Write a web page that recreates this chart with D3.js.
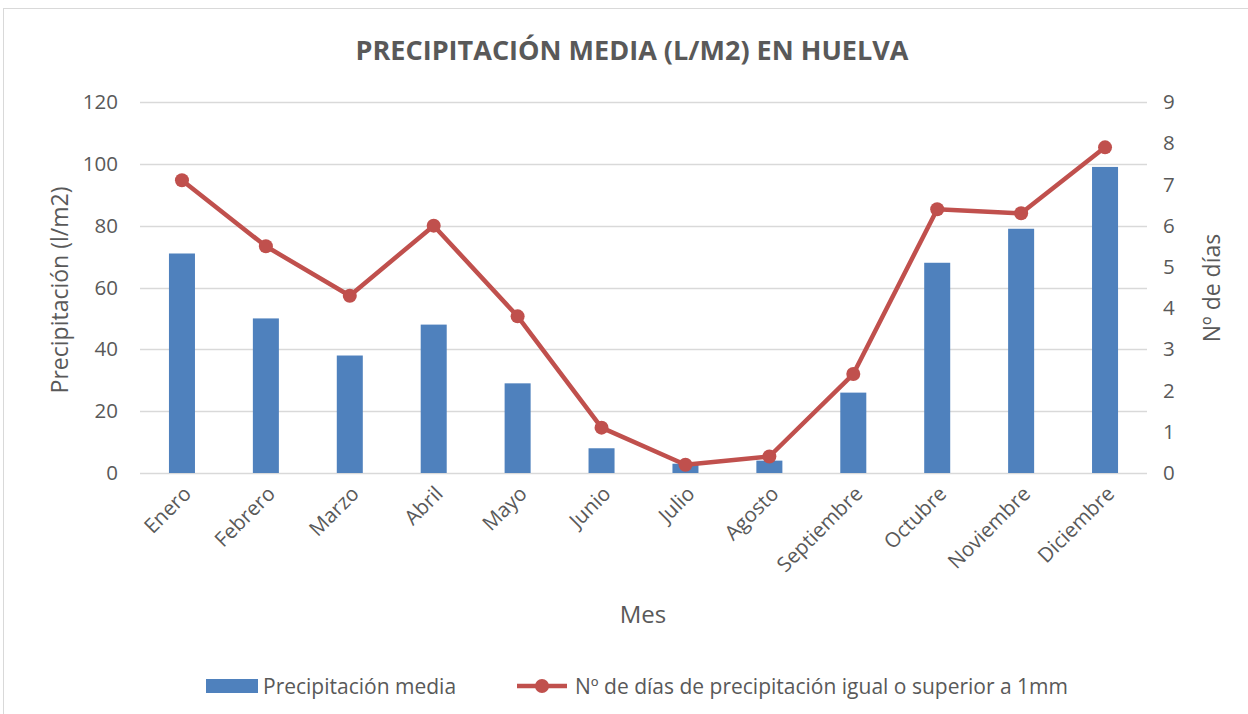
<!DOCTYPE html>
<html>
<head>
<meta charset="utf-8">
<script src="https://cdn.jsdelivr.net/npm/d3@7"></script>
<style>
  body { margin: 0; background: #fff; }
  text { font-family: "Open Sans", "DejaVu Sans", sans-serif; fill: #595959; }
</style>
</head>
<body>
<svg id="chart" width="1248" height="714"></svg>
<script>
const months = ["Enero", "Febrero", "Marzo", "Abril", "Mayo", "Junio", "Julio",
  "Agosto", "Septiembre", "Octubre", "Noviembre", "Diciembre"];
const precip = [71, 50, 38, 48, 29, 8, 3, 4, 26, 68, 79, 99];
const rainDays = [7.1, 5.5, 4.3, 6.0, 3.8, 1.1, 0.2, 0.4, 2.4, 6.4, 6.3, 7.9];
const leftTicks = [0, 20, 40, 60, 80, 100, 120];
const rightTicks = [0, 1, 2, 3, 4, 5, 6, 7, 8, 9];

const barColor = "#4f81bd";
const lineColor = "#c0504d";

const svg = d3.select("#chart");
const margin = { top: 102, left: 140, right: 101, bottom: 241 };
const width = 1248 - margin.left - margin.right;
const height = 714 - margin.top - margin.bottom;

// chart frame
svg.append("rect")
  .attr("x", 3.5).attr("y", 8.5)
  .attr("width", 1260).attr("height", 720)
  .attr("fill", "none").attr("stroke", "#d9d9d9");

const x = d3.scaleBand().domain(months).range([0, width]).paddingInner(0.69).paddingOuter(0.345);
const xc = d3.scalePoint().domain(months).range([0, width]).padding(0.5);
const y = d3.scaleLinear().domain([0, 120]).range([height, 0]);
const y2 = d3.scaleLinear().domain([0, 9]).range([height, 0]);

const g = svg.append("g").attr("transform", `translate(${margin.left},${margin.top})`);

// gridlines
g.append("g")
  .selectAll("line")
  .data(leftTicks)
  .join("line")
  .attr("x1", 0).attr("x2", width)
  .attr("y1", d => Math.round(y(d)) + 0.5).attr("y2", d => Math.round(y(d)) + 0.5)
  .attr("stroke", "#d9d9d9").attr("stroke-width", 1.3);

// left axis
const yAxis = g.append("g")
  .call(d3.axisLeft(y).tickValues(leftTicks).tickSize(0).tickPadding(22));
yAxis.select(".domain").remove();
yAxis.selectAll("text").style("font-size", "20.5px").attr("fill", "#595959");

// right axis
const y2Axis = g.append("g")
  .attr("transform", `translate(${width},0)`)
  .call(d3.axisRight(y2).tickValues(rightTicks).tickSize(0).tickPadding(16));
y2Axis.select(".domain").remove();
y2Axis.selectAll("text").style("font-size", "20.5px").attr("fill", "#595959");

// bars
g.append("g")
  .selectAll("rect")
  .data(precip)
  .join("rect")
  .attr("x", (d, i) => x(months[i]))
  .attr("y", d => y(d))
  .attr("width", x.bandwidth())
  .attr("height", d => height - y(d))
  .attr("fill", barColor);

// x axis labels
const xAxis = g.append("g")
  .attr("transform", `translate(0,${height})`)
  .call(d3.axisBottom(xc).tickSize(0).tickPadding(0));
xAxis.select(".domain").remove();
xAxis.selectAll("text")
  .style("font-size", "20.5px")
  .attr("fill", "#595959")
  .attr("text-anchor", "end")
  .attr("dy", 0)
  .attr("transform", "translate(10,22) rotate(-45)");

// line
const line = d3.line()
  .x((d, i) => xc(months[i]))
  .y(d => y2(d));

g.append("path")
  .datum(rainDays)
  .attr("d", line)
  .attr("fill", "none")
  .attr("stroke", lineColor)
  .attr("stroke-width", 4.5)
  .attr("stroke-linejoin", "round");

g.append("g")
  .selectAll("circle")
  .data(rainDays)
  .join("circle")
  .attr("cx", (d, i) => xc(months[i]))
  .attr("cy", d => y2(d))
  .attr("r", 7)
  .attr("fill", lineColor);

// titles
svg.append("text")
  .attr("x", 632).attr("y", 60)
  .attr("text-anchor", "middle")
  .attr("textLength", 553)
  .attr("lengthAdjust", "spacingAndGlyphs")
  .style("font-size", "27px").style("font-weight", "bold")
  .text("PRECIPITACIÓN MEDIA (L/M2) EN HUELVA");

svg.append("text")
  .attr("transform", "translate(68,290) rotate(-90)")
  .attr("text-anchor", "middle")
  .style("font-size", "23px")
  .text("Precipitación (l/m2)");

svg.append("text")
  .attr("transform", "translate(1220,288) rotate(-90)")
  .attr("text-anchor", "middle")
  .style("font-size", "23px")
  .text("Nº de días");

svg.append("text")
  .attr("x", 643).attr("y", 623)
  .attr("text-anchor", "middle")
  .style("font-size", "24px")
  .text("Mes");

// legend
const legend = svg.append("g").attr("transform", "translate(0,686)");
legend.append("rect")
  .attr("x", 206).attr("y", -7).attr("width", 52).attr("height", 14)
  .attr("fill", barColor);
legend.append("text")
  .attr("x", 263).attr("y", 7.5)
  .style("font-size", "21px")
  .text("Precipitación media");
legend.append("line")
  .attr("x1", 517).attr("x2", 567).attr("y1", 0).attr("y2", 0)
  .attr("stroke", lineColor).attr("stroke-width", 4.5);
legend.append("circle")
  .attr("cx", 542).attr("cy", 0).attr("r", 7).attr("fill", lineColor);
legend.append("text")
  .attr("x", 575).attr("y", 7.5)
  .style("font-size", "21px")
  .text("Nº de días de precipitación igual o superior a 1mm");
</script>
</body>
</html>
